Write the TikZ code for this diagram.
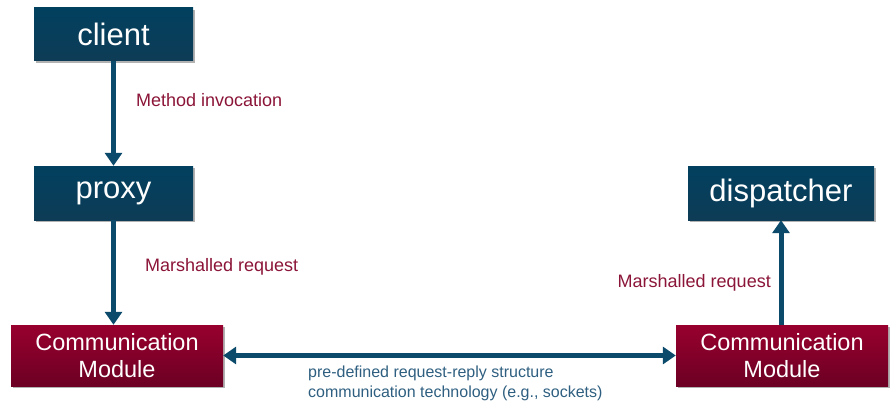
\documentclass[tikz,border=0pt]{standalone}
\usepackage{fontspec}
\setmainfont{Liberation Sans}
\usetikzlibrary{arrows.meta,shadows}
\definecolor{bluetop}{HTML}{01405F}
\definecolor{bluebot}{HTML}{0E3C56}
\definecolor{redtop}{HTML}{98002E}
\definecolor{redbot}{HTML}{6C0024}
\definecolor{arrowcol}{HTML}{0B4A6A}
\definecolor{labelcol}{HTML}{8B1538}
\definecolor{notecol}{HTML}{2E5F80}
\tikzset{
  bluebox/.style={rectangle, top color=bluetop, bottom color=bluebot, text=white,
    inner sep=0pt, font=\fontsize{31}{36}\selectfont,
    drop shadow={shadow xshift=2pt, shadow yshift=-2pt, fill=black!30, opacity=1}},
  redbox/.style={rectangle, top color=redtop, bottom color=redbot, text=white,
    inner sep=0pt, align=center, minimum width=212pt, minimum height=61pt,
    font=\fontsize{23.5}{27}\selectfont,
    drop shadow={shadow xshift=2pt, shadow yshift=-2pt, fill=black!30, opacity=1}},
  conn/.style={draw=arrowcol, line width=5pt, -{Triangle[width=17pt,length=13pt]}},
  biconn/.style={draw=arrowcol, line width=5pt, {Triangle[width=17pt,length=13pt]}-{Triangle[width=17pt,length=13pt]}},
  lbl/.style={text=labelcol, font=\fontsize{18}{21}\selectfont, inner sep=0pt},
  note/.style={text=notecol, font=\fontsize{16}{20}\selectfont, inner sep=0pt, align=left}
}
\begin{document}
\begin{tikzpicture}[x=1pt,y=-1pt]
\useasboundingbox (0,0) rectangle (895,415);
\node[bluebox, minimum width=159pt, minimum height=53pt] (client) at (113.5,34) {client};
\node[bluebox, minimum width=159pt, minimum height=54pt] (proxy) at (113.5,193) {proxy};
\node[bluebox, minimum width=186pt, minimum height=54pt] (disp) at (781,193) {dispatcher};
\node[redbox] (cml) at (117,355.5) {Communication\\Module};
\node[redbox] (cmr) at (782,355.5) {Communication\\Module};
\draw[conn] (client) -- (proxy);
\draw[conn] (proxy) -- (proxy |- cml.north);
\draw[conn] (disp |- cmr.north) -- (disp);
\draw[biconn] (cml) -- (cmr);
\node[lbl, anchor=west] (l1) at (136,100) {Method invocation};
\node[lbl, anchor=west] (l2) at (145,267) {Marshalled request};
\node[lbl, anchor=east] (l3) at (771,283) {Marshalled request};
\node[note, anchor=west] (n1) at (308,383) {pre-defined request-reply structure\\communication technology (e.g., sockets)};
\end{tikzpicture}
\end{document}
